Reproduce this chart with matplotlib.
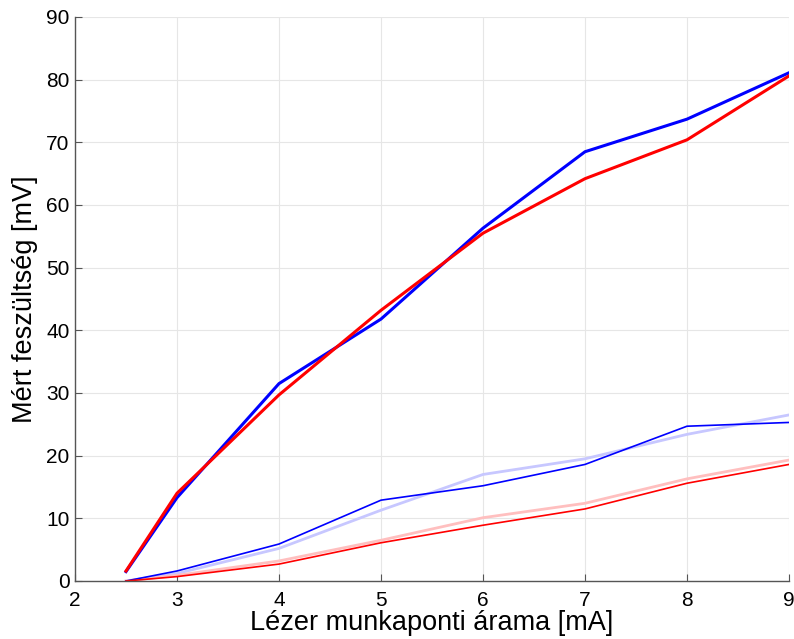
import matplotlib
matplotlib.use("Agg")
import matplotlib.pyplot as plt

plt.rcParams['font.family'] = ['Liberation Sans', 'DejaVu Sans']

x = [2.5, 3, 4, 5, 6, 7, 8, 9]
blue_thick = [1.5, 13.3, 31.5, 41.8, 56.3, 68.5, 73.7, 81.1]
red_thick = [1.6, 14.0, 29.7, 43.2, 55.5, 64.2, 70.4, 80.6]
blue_thin = [0.0, 1.6, 5.9, 12.9, 15.2, 18.6, 24.7, 25.3]
blue_light = [0.0, 1.2, 5.2, 11.3, 17.0, 19.5, 23.4, 26.5]
red_thin = [0.0, 0.7, 2.7, 6.1, 8.9, 11.5, 15.6, 18.6]
red_light = [0.0, 0.9, 3.2, 6.5, 10.1, 12.4, 16.3, 19.3]

fig = plt.figure(figsize=(7.94, 6.39), dpi=100)
ax = fig.add_axes([75/794, 1-581/639, (789-75)/794, (581-17)/639])

ax.plot(x, blue_light, color=(0.78, 0.78, 1.0), lw=2.0)
ax.plot(x, red_light, color=(1.0, 0.75, 0.75), lw=2.0)
ax.plot(x, blue_thin, color=(0, 0, 1), lw=1.2)
ax.plot(x, red_thin, color=(1, 0, 0), lw=1.2)
ax.plot(x, blue_thick, color=(0, 0, 1), lw=2.2)
ax.plot(x, red_thick, color=(1, 0, 0), lw=2.2)

ax.set_xlim(2, 9)
ax.set_ylim(0, 90)
ax.set_xticks(range(2, 10))
ax.set_yticks(range(0, 91, 10))
ax.grid(True, color='#e6e6e6', lw=0.8)
ax.set_axisbelow(True)
for s in ['top', 'right']:
    ax.spines[s].set_visible(False)
for s in ['left', 'bottom']:
    ax.spines[s].set_color('#555555')
    ax.spines[s].set_linewidth(1.0)
ax.tick_params(direction='in', length=5, color='#555555', labelsize=15)
ax.tick_params(axis='x', pad=7)
ax.tick_params(axis='y', pad=4)
ax.set_xlabel('Lézer munkaponti árama [mA]', fontsize=19.5, labelpad=0)
ax.set_ylabel('Mért feszültség [mV]', fontsize=19.5, labelpad=6)

fig.savefig('out.png', dpi=100)
